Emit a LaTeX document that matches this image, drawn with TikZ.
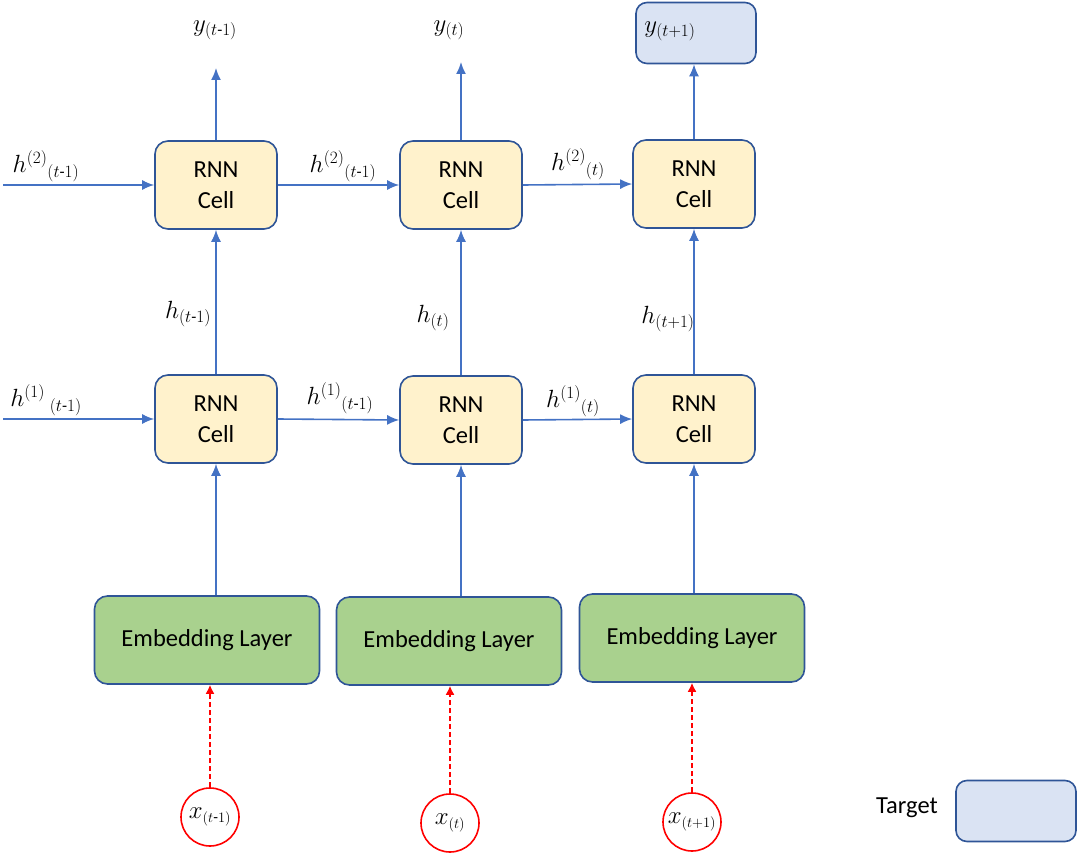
\documentclass[tikz,border=0pt]{standalone}
\usepackage{amsmath}
\usepackage{fontspec}
\setmainfont{Carlito}
\usetikzlibrary{arrows.meta}
% label sizes: large base letter, compact indices
\DeclareMathSizes{26}{26}{16.5}{12}
\DeclareMathSizes{24}{24}{15.5}{11}
\definecolor{cellfill}{HTML}{FFF2CC}
\definecolor{boxline}{HTML}{2F5597}
\definecolor{flowblue}{HTML}{4472C4}
\definecolor{embfill}{HTML}{A9D18E}
\definecolor{targetfill}{HTML}{DAE3F3}
\definecolor{inred}{HTML}{FF0000}
\begin{document}
\begin{tikzpicture}[x=1pt,y=-1pt,
  cellbox/.style={draw=boxline, line width=1.6pt, fill=cellfill, rounded corners=13pt,
    minimum width=122pt, minimum height=88pt, inner sep=0pt, align=center,
    font=\fontsize{24.5}{31}\selectfont},
  embbox/.style={draw=boxline, line width=1.6pt, fill=embfill, rounded corners=13pt,
    minimum width=225pt, minimum height=88pt, inner sep=0pt,
    font=\fontsize{24.5}{30}\selectfont},
  targetbox/.style={draw=boxline, line width=1.6pt, fill=targetfill, rounded corners=11pt,
    minimum width=120pt, minimum height=61pt, inner sep=0pt},
  inputnode/.style={draw=inred, line width=1.6pt, circle, minimum size=58pt, inner sep=0pt,
    font=\fontsize{24}{28}\selectfont},
  flow/.style={draw=flowblue, line width=1.6pt, -{Latex[length=12pt,width=10pt]}},
  feed/.style={draw=inred, line width=1.6pt, dash pattern=on 5pt off 3pt,
    -{Latex[length=9pt,width=9pt]}},
  lbl/.style={inner sep=0pt, font=\fontsize{26}{30}\selectfont},
  legendtext/.style={inner sep=0pt, font=\fontsize{24.5}{30}\selectfont}
]
\useasboundingbox (0,0) rectangle (1077,856);

% recurrent cells, upper layer
\node[cellbox] (c21) at (216,185) {RNN\\Cell};
\node[cellbox] (c22) at (461,185) {RNN\\Cell};
\node[cellbox] (c23) at (694,184) {RNN\\Cell};
% recurrent cells, lower layer
\node[cellbox] (c11) at (216,419) {RNN\\Cell};
\node[cellbox] (c12) at (461,420) {RNN\\Cell};
\node[cellbox] (c13) at (694,419) {RNN\\Cell};
% embedding layers
\node[embbox] (e1) at (207,640) {Embedding Layer};
\node[embbox] (e2) at (449,641) {Embedding Layer};
\node[embbox] (e3) at (692,638) {Embedding Layer};
% inputs
\node[inputnode] (x1) at (210,817) {$x_{(t\text{-}1)}$};
\node[inputnode] (x2) at (450,823) {$x_{(t)}$};
\node[inputnode] (x3) at (692,822) {$x_{(t+1)}$};
% outputs
\node[lbl] (y1) at (215,30) {$y_{(t\text{-}1)}$};
\node[lbl] (y2) at (449,30) {$y_{(t)}$};
\node[targetbox] (tg) at (696,33) {};
\node[lbl] (y3) at (670,31) {$y_{(t+1)}$};
\coordinate (o1) at (216,68);
\coordinate (o2) at (461,62);
% incoming hidden states
\coordinate (in2) at (3,185);
\coordinate (in1) at (3,419);

% input feeds
\foreach \i in {1,2,3} {
  \draw[feed] (x\i.north) -- (x\i.north |- e\i.south);
}
% embeddings into the lower cells
\foreach \i in {1,2,3} {
  \draw[flow] (c1\i.south |- e\i.north) -- (c1\i.south);
}
% lower to upper layer
\foreach \i in {1,2,3} {
  \draw[flow] (c1\i.north) -- (c2\i.south);
}
% outputs
\draw[flow] (c21.north) -- (o1);
\draw[flow] (c22.north) -- (o2);
\draw[flow] (c23.north) -- (c23.north |- tg.south);

% horizontal recurrences
\draw[flow] (in2) -- (c21.west);
\draw[flow] (c21.east) -- (c22.west);
\draw[flow] (c22.east) -- (c23.west);
\draw[flow] (in1) -- (c11.west);
\draw[flow] (c11.east) -- (c12.west);
\draw[flow] (c12.east) -- (c13.west);

% state labels
\node[lbl] (l21) at (46,166) {$h^{(2)}{}_{(t\text{-}1)}$};
\node[lbl] (l22) at (343,166) {$h^{(2)}{}_{(t\text{-}1)}$};
\node[lbl] (l23) at (578,164) {$h^{(2)}{}_{(t)}$};
\node[lbl] (l11) at (46,400) {$h^{(1)}{}_{\;(t\text{-}1)}$};
\node[lbl] (l12) at (340,398) {$h^{(1)}{}_{(t\text{-}1)}$};
\node[lbl] (l13) at (573,401) {$h^{(1)}{}_{(t)}$};
\node[lbl] (v1) at (188,314) {$h_{(t\text{-}1)}$};
\node[lbl] (v2) at (433,318) {$h_{(t)}$};
\node[lbl] (v3) at (668,319) {$h_{(t+1)}$};

% legend
\node[legendtext] (lt) at (907,808) {Target};
\node[targetbox] (lb) at (1016,811) {};
\end{tikzpicture}
\end{document}
